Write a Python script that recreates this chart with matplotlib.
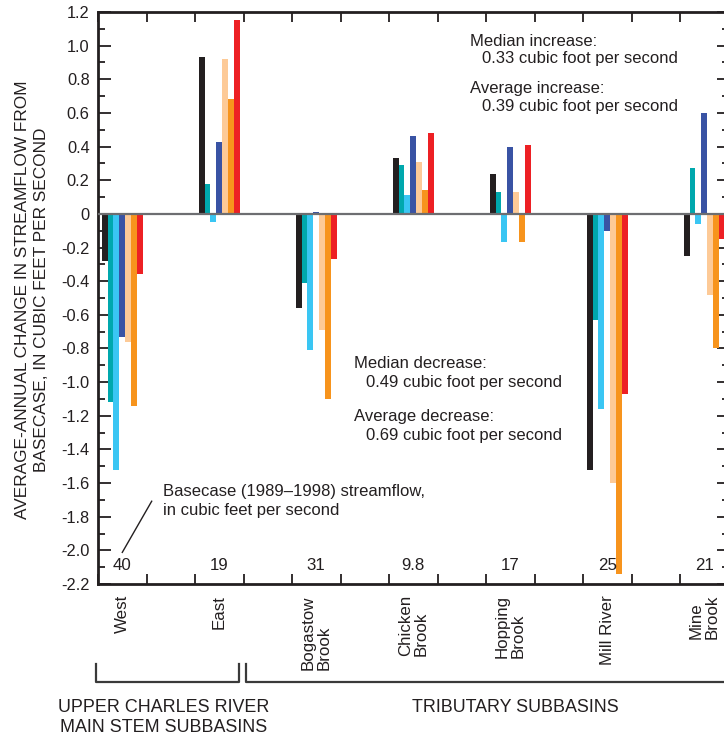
import numpy as np
import matplotlib.pyplot as plt
from matplotlib.lines import Line2D
from matplotlib.ticker import MultipleLocator, FuncFormatter

plt.rcParams['font.family'] = ['Liberation Sans', 'DejaVu Sans']

# subbasins and basecase (1989-1998) streamflow, cfs
basins = ['West', 'East', 'Bogastow\nBrook', 'Chicken\nBrook', 'Hopping\nBrook',
          'Mill River', 'Mine\nBrook']
basecase = ['40', '19', '31', '9.8', '17', '25', '21']

# average-annual change in streamflow from basecase, cfs (one list per scenario)
scen_1 = [-0.28, 0.93, -0.56, 0.33, 0.24, -1.52, -0.25]
scen_2 = [-1.12, 0.18, -0.41, 0.29, 0.13, -0.63, 0.27]
scen_3 = [-1.52, -0.05, -0.81, 0.11, -0.17, -1.16, -0.06]
scen_4 = [-0.73, 0.43, 0.01, 0.46, 0.40, -0.10, 0.60]
scen_5 = [-0.76, 0.92, -0.69, 0.31, 0.13, -1.60, -0.48]
scen_6 = [-1.14, 0.68, -1.10, 0.14, -0.17, -2.14, -0.80]
scen_7 = [-0.36, 1.15, -0.27, 0.48, 0.41, -1.07, -0.15]

series = [scen_1, scen_2, scen_3, scen_4, scen_5, scen_6, scen_7]
colors = ['#231f20', '#00a8ad', '#3ac6f3', '#3953a4', '#fdca97', '#f7941d', '#ed2024']

W, H = 724, 742
fig = plt.figure(figsize=(W / 100, H / 100), dpi=100)

def fx(px):
    return px / W

def fy(py):
    return 1 - py / H

ax = fig.add_axes([fx(98), fy(584), 630.5 / W, 572 / H])

centers = np.arange(len(basins)) * 2 + 0.5
bw = 0.121
for i, (vals, c) in enumerate(zip(series, colors)):
    ax.bar(centers + (i - 3) * bw, vals, width=bw, color=c, linewidth=0, zorder=2)

ax.axhline(0, color='#6d6e71', linewidth=1.6, zorder=3)

ax.set_xlim(0, 13)
ax.set_ylim(-2.2, 1.2)
ax.set_xticks(np.arange(0, 14))
ax.set_xticklabels([])
ax.yaxis.set_major_locator(MultipleLocator(0.2))
ax.yaxis.set_minor_locator(MultipleLocator(0.1))
ax.yaxis.set_major_formatter(FuncFormatter(lambda v, p: '0' if abs(v) < 1e-9 else '%.1f' % v))
ax.tick_params(axis='x', which='major', direction='in', top=True, bottom=True,
               length=7, width=1.3, color='#231f20')
ax.tick_params(axis='y', which='major', direction='in', left=True, right=True,
               length=9, width=1.3, color='#231f20', labelsize=11.8, pad=6,
               labelcolor='#231f20')
ax.tick_params(axis='y', which='minor', direction='in', left=True, right=True,
               length=5, width=1.3, color='#231f20')
for s in ax.spines.values():
    s.set_linewidth(2)
    s.set_color('#231f20')

# category labels below the axis
for c, name in zip(centers, basins):
    ax.annotate(name, xy=(c, 0), xycoords=('data', 'axes fraction'),
                xytext=(0, -11), textcoords='offset pixels', rotation=90,
                ha='center', va='top', multialignment='left',
                fontsize=12.2, linespacing=1.05, color='#231f20')

txt = dict(fontsize=12, va='center', color='#231f20')

# basecase streamflow numbers
for c, b in zip(centers, basecase):
    ax.text(c, -2.09, b, ha='center', **dict(txt, fontsize=12.2))

ax.text(1.34, -1.649, 'Basecase (1989\u20131998) streamflow,', **txt)
ax.text(1.34, -1.762, 'in cubic feet per second', **txt)
ax.plot([1.107, 0.501], [-1.708, -2.012], color='#231f20', linewidth=1, zorder=3)

ax.text(7.67, 1.024, 'Median increase:', **txt)
ax.text(7.92, 0.923, '0.33 cubic foot per second', **txt)
ax.text(7.67, 0.744, 'Average increase:', **txt)
ax.text(7.92, 0.637, '0.39 cubic foot per second', **txt)

ax.text(5.28, -0.887, 'Median decrease:', **txt)
ax.text(5.53, -1.0, '0.49 cubic foot per second', **txt)
ax.text(5.28, -1.202, 'Average decrease:', **txt)
ax.text(5.53, -1.315, '0.69 cubic foot per second', **txt)

fig.text(fx(32), fy(300),
         'AVERAGE-ANNUAL CHANGE IN STREAMFLOW FROM\nBASECASE, IN CUBIC FEET PER SECOND',
         rotation=90, ha='center', va='center', multialignment='center',
         fontsize=12.4, linespacing=1.3, color='#231f20')

# group brackets
bk = dict(transform=fig.transFigure, color='#3a3a3a', linewidth=1.6)
fig.add_artist(Line2D([fx(96), fx(96), fx(239), fx(239)],
                      [fy(664), fy(682), fy(682), fy(664)], **bk))
fig.add_artist(Line2D([fx(245.5), fx(245.5), fx(740)],
                      [fy(664), fy(682), fy(682)], **bk))

grp = dict(ha='center', va='center', fontsize=12.9, color='#231f20')
fig.text(fx(164), fy(708), 'UPPER CHARLES RIVER', **grp)
fig.text(fx(164), fy(728), 'MAIN STEM SUBBASINS', **grp)
fig.text(fx(515), fy(708), 'TRIBUTARY SUBBASINS', **grp)

fig.savefig('out.png', dpi=100)
